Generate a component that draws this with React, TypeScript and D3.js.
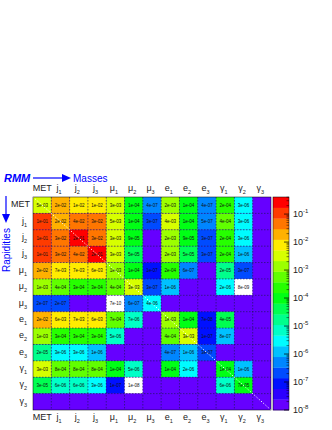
import * as d3 from "d3";

// axis labels: [base, subscript]
const labels: [string, string][] = [
  ["MET", ""], ["j", "1"], ["j", "2"], ["j", "3"],
  ["μ", "1"], ["μ", "2"], ["μ", "3"],
  ["e", "1"], ["e", "2"], ["e", "3"],
  ["γ", "1"], ["γ", "2"], ["γ", "3"],
];

// rows top -> bottom, columns left -> right; null = empty cell
const rowMET = [5e-3, 2e-2, 1e-2, 1e-2, 3e-3, 1e-4, 4e-7, 2e-3, 1e-4, 4e-7, 2e-4, 3e-6, null];
const rowJ1 = [1e-1, 2e-2, 4e-2, 3e-2, 5e-3, 1e-4, 3e-7, 4e-3, 1e-4, 5e-7, 4e-4, 3e-6, null];
const rowJ2 = [1e-1, 3e-2, 2e-1, 3e-2, 3e-3, 9e-5, null, 2e-3, 9e-5, 3e-7, 2e-4, 3e-6, null];
const rowJ3 = [1e-1, 3e-2, 4e-2, 2e-1, 3e-3, 5e-5, null, 2e-3, 5e-5, 3e-7, 2e-4, 1e-6, null];
const rowMu1 = [2e-2, 7e-3, 7e-3, 6e-3, 1e-3, 1e-4, 1e-7, 2e-4, 6e-7, null, 2e-5, 3e-7, null];
const rowMu2 = [1e-3, 4e-4, 3e-4, 3e-4, 4e-4, 3e-3, 3e-7, 1e-6, null, null, 2e-6, 8e-9, null];
const rowMu3 = [2e-7, 2e-7, null, null, 7e-10, 6e-7, 4e-6, null, null, null, null, null, null];
const rowE1 = [2e-2, 6e-3, 7e-3, 6e-3, 7e-4, 7e-6, null, 1e-3, 1e-4, 7e-8, 4e-5, null, null];
const rowE2 = [1e-3, 3e-4, 3e-4, 3e-4, 5e-6, null, null, 4e-4, 3e-3, 1e-7, 8e-7, null, null];
const rowE3 = [2e-5, 3e-6, 3e-6, 1e-6, null, null, null, 4e-7, 1e-6, 3e-7, null, null, null];
const rowG1 = [3e-3, 8e-4, 8e-4, 8e-4, 1e-4, 5e-6, null, 1e-4, 2e-6, null, 1e-4, 1e-6, null];
const rowG2 = [3e-5, 6e-6, 6e-6, 3e-6, 1e-7, 1e-8, null, null, null, null, 6e-6, 7e-5, null];
const rowG3 = [null, null, null, null, null, null, null, null, null, null, null, null, null];

const matrix = [rowMET, rowJ1, rowJ2, rowJ3, rowMu1, rowMu2, rowMu3, rowE1, rowE2, rowE3, rowG1, rowG2, rowG3];

const cbExponents = [-1, -2, -3, -4, -5, -6, -7, -8];

const fmt = (v: number) => {
  const [m, e] = v.toExponential(0).split("e");
  const n = Math.abs(+e);
  return `${m}e${+e < 0 ? "-" : "+"}${n < 10 ? "0" + n : n}`;
};

const Label = ({ l, ...rest }: any) => (
  <text {...rest}>
    {l[0]}
    {l[1] && (
      <tspan fontSize={5.5} dy={3}>
        {l[1]}
      </tspan>
    )}
  </text>
);

export default function App() {
  const W = 332, H = 430;
  const left = 33, right = 271, top = 197, bottom = 410;
  const n = labels.length;
  const x = d3.scaleBand<number>().domain(d3.range(n)).range([left, right]);
  const y = d3.scaleBand<number>().domain(d3.range(n)).range([top, bottom]);

  const zMin = 1e-8, zMax = Math.pow(10, -0.39);
  const nLev = 20;
  const lz = d3.scaleLinear().domain([Math.log10(zMin), Math.log10(zMax)]).range([0, nLev]);
  const levelColor = (i: number) => d3.hsl(264 * (1 - i / (nLev - 1)), 1, 0.5).formatHex();
  const colorOf = (v: number | null) => {
    if (v == null) return levelColor(0);
    if (v <= zMin) return "#ffffff";
    return levelColor(Math.max(0, Math.min(nLev - 1, Math.floor(lz(Math.log10(v))))));
  };

  const cbX0 = 273, cbX1 = 289;
  const cb = d3.scaleLog().domain([zMin, zMax]).range([bottom, top]);
  const levH = (bottom - top) / nLev;

  const minor: number[] = [];
  for (let d = -8; d <= -1; d++) {
    for (let m = 2; m <= 9; m++) {
      const v = m * Math.pow(10, d);
      if (v < zMax) minor.push(v);
    }
  }

  const font = "'Liberation Sans', Arial, sans-serif";

  return (
    <svg width={W} height={H} style={{ position: "absolute", left: 0, top: 0, background: "#fff" }} fontFamily={font}>
      {/* cells */}
      <rect x={left} y={top} width={right - left} height={bottom - top} fill={levelColor(0)} />
      {matrix.map((row, r) =>
        row.map((v, c) => (
          <g key={`${r}-${c}`}>
            <rect x={x(c)} y={y(r)} width={x.bandwidth()} height={y.bandwidth()} fill={colorOf(v)} />
            {v != null && (
              <text
                x={x(c)! + x.bandwidth() / 2}
                y={y(r)! + y.bandwidth() / 2 + 1.6}
                fontSize={4.5}
                textAnchor="middle"
                fill="#111"
              >
                {fmt(v)}
              </text>
            )}
          </g>
        ))
      )}
      {/* dashed grid */}
      {d3.range(1, n).map((i) => (
        <g key={"g" + i} stroke="#1a1a4a" strokeWidth={0.6} strokeDasharray="1.5,1.5">
          <line x1={x(i)} x2={x(i)} y1={top} y2={bottom} />
          <line x1={left} x2={right} y1={y(i)} y2={y(i)} />
        </g>
      ))}
      {/* diagonal */}
      <line x1={left} y1={top} x2={right} y2={bottom} stroke="#fff" strokeWidth={1} strokeDasharray="1.2,1.8" />
      <rect x={left} y={top} width={right - left} height={bottom - top} fill="none" stroke="#000" strokeWidth={0.5} />

      {/* axis labels */}
      {labels.map((l, i) => (
        <g key={"l" + i} fontSize={9} fill="#222">
          <Label l={l} x={x(i)! + x.bandwidth() / 2 - (l[1] ? 1.5 : 0)} y={191} textAnchor="middle" />
          <Label l={l} x={x(i)! + x.bandwidth() / 2 - (l[1] ? 1.5 : 0)} y={420} textAnchor="middle" />
          <Label l={l} x={l[1] ? 27 : 30} y={y(i)! + y.bandwidth() / 2 + 2} textAnchor="end" />
        </g>
      ))}

      {/* colour bar */}
      {d3.range(nLev).map((i) => (
        <rect key={"cb" + i} x={cbX0} y={bottom - (i + 1) * levH} width={cbX1 - cbX0} height={levH + 0.3} fill={levelColor(i)} />
      ))}
      <rect x={cbX0} y={top} width={cbX1 - cbX0} height={bottom - top} fill="none" stroke="#000" strokeWidth={0.5} />
      {cbExponents.map((e) => (
        <g key={"t" + e}>
          <line x1={cbX1} x2={cbX1 - 5} y1={cb(Math.pow(10, e))} y2={cb(Math.pow(10, e))} stroke="#000" strokeWidth={0.7} />
          <text x={cbX1 + 4} y={cb(Math.pow(10, e)) + 3} fontSize={9} fill="#222">
            10
            <tspan fontSize={6} dy={-4}>
              {e < 0 ? "-" + Math.abs(e) : e}
            </tspan>
          </text>
        </g>
      ))}
      {minor.map((v, i) => (
        <line key={"m" + i} x1={cbX1} x2={cbX1 - 2.5} y1={cb(v)} y2={cb(v)} stroke="#000" strokeWidth={0.5} />
      ))}

      {/* RMM annotation */}
      <text x={4} y={182} fontSize={11} fontWeight="bold" fontStyle="italic" fill="#0000ff">
        RMM
      </text>
      <line x1={33} x2={64} y1={178} y2={178} stroke="#0000ff" strokeWidth={1.2} />
      <path d="M62,174 L71,178 L62,182 Z" fill="#0000ff" />
      <text x={73} y={181.5} fontSize={10} fill="#0000ff">
        Masses
      </text>
      <line x1={6} x2={6} y1={196} y2={216} stroke="#0000ff" strokeWidth={1.2} />
      <path d="M2,214 L6,223 L10,214 Z" fill="#0000ff" />
      <text transform="translate(10,272) rotate(-90)" fontSize={10} fill="#0000ff">
        Rapidities
      </text>
    </svg>
  );
}
